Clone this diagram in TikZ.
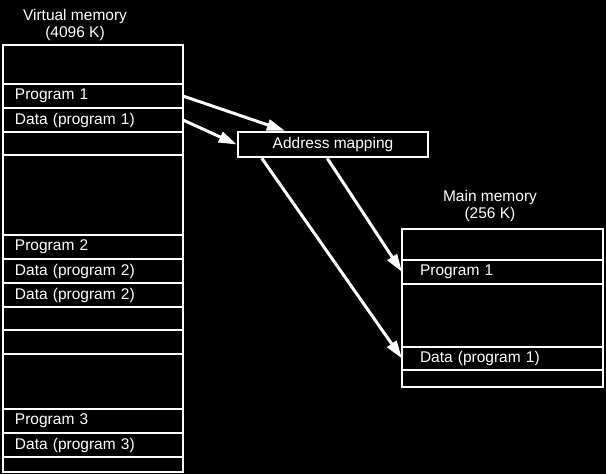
\documentclass[tikz,border=0pt]{standalone}
\usepackage{fontspec}
\setmainfont{Liberation Sans}
\usetikzlibrary{positioning,calc,arrows.meta}
\tikzset{
    vrow/.style={draw=white, line width=2.5pt, minimum width=180pt, text width=156pt, inner xsep=12pt, inner ysep=0pt, outer sep=0pt, align=left},
    mrow/.style={draw=white, line width=2.5pt, minimum width=201pt, text width=165pt, inner xsep=18pt, inner ysep=0pt, outer sep=0pt, align=left},
    heading/.style={align=center, font=\fontsize{15.5}{17}\selectfont},
    mapbox/.style={draw=white, line width=2.5pt, minimum width=190pt, minimum height=25pt, inner sep=0pt},
    map/.style={-{Triangle[length=18pt,width=11pt]}, line width=3pt, white},
    node distance=0pt
}

\begin{document}
\begin{tikzpicture}[x=1pt, y=-1pt, every node/.style={text=white, font=\fontsize{15.5}{17}\selectfont}]
  \fill[black] (0,0) rectangle (606,474);
  \useasboundingbox (0,0) rectangle (606,474);

  % virtual memory
  \node[heading] (vtitle) at (75,25) {Virtual memory\\(4096 K)};
  \node[vrow, minimum height=39pt, anchor=north west] (v0) at (3,45) {};
  \node[vrow, minimum height=24pt, below=of v0] (vp1) {Program 1};
  \node[vrow, minimum height=24pt, below=of vp1] (vd1) {Data (program 1)};
  \node[vrow, minimum height=23pt, below=of vd1] (v1) {};
  \node[vrow, minimum height=80pt, below=of v1] (v2) {};
  \node[vrow, minimum height=24pt, below=of v2] (vp2) {Program 2};
  \node[vrow, minimum height=24pt, below=of vp2] (vd2) {Data (program 2)};
  \node[vrow, minimum height=24pt, below=of vd2] (vd2b) {Data (program 2)};
  \node[vrow, minimum height=23pt, below=of vd2b] (v3) {};
  \node[vrow, minimum height=24pt, below=of v3] (v4) {};
  \node[vrow, minimum height=55pt, below=of v4] (v5) {};
  \node[vrow, minimum height=24pt, below=of v5] (vp3) {Program 3};
  \node[vrow, minimum height=24pt, below=of vp3] (vd3) {Data (program 3)};
  \node[vrow, minimum height=15pt, below=of vd3] (v6) {};

  % main memory
  \node[heading] (mtitle) at (490,206) {Main memory\\(256 K)};
  \node[mrow, minimum height=31pt, anchor=north west] (m0) at (402,229) {};
  \node[mrow, minimum height=24pt, below=of m0] (mp1) {Program 1};
  \node[mrow, minimum height=63pt, below=of mp1] (m1) {};
  \node[mrow, minimum height=23pt, below=of m1] (md1) {Data (program 1)};
  \node[mrow, minimum height=17pt, below=of md1] (m2) {};

  \node[mapbox] (amap) at (333,144.5) {Address mapping};

  \draw[map] (vp1.east) -- ($(amap.north west)!0.25!(amap.north east)$);
  \draw[map] (vd1.east) -- (amap.west);
  \draw[map] ($(amap.south west)!0.47!(amap.south east)$) -- (mp1.west);
  \draw[map] ($(amap.south west)!0.13!(amap.south east)$) -- (md1.west);
\end{tikzpicture}
\end{document}
